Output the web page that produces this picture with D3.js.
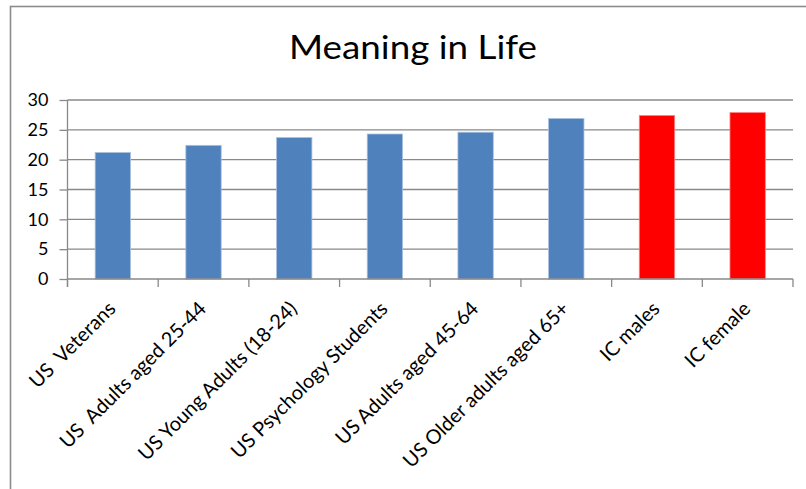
<!DOCTYPE html>
<html>
<head>
<meta charset="utf-8">
<script src="https://cdn.jsdelivr.net/npm/d3@7"></script>
<style>
  html, body { margin: 0; padding: 0; background: #fff; }
  svg { display: block; }
  text { font-family: Lato, "Open Sans", sans-serif; fill: #000; }
</style>
</head>
<body>
<svg id="chart" width="806" height="489"></svg>
<script>
const categories = ["US  Veterans", "US  Adults aged 25-44", "US Young Adults (18-24)", "US Psychology Students",
  "US Adults aged 45-64", "US Older adults aged 65+", "IC males", "IC female"];
const values = [21.2, 22.4, 23.7, 24.3, 24.6, 26.9, 27.4, 27.9];
const barColors = ["#4F81BD", "#4F81BD", "#4F81BD", "#4F81BD", "#4F81BD", "#4F81BD", "#FF0000", "#FF0000"];
const yTicks = [0, 5, 10, 15, 20, 25, 30];
const title = "Meaning in Life";

const svg = d3.select("#chart");
const W = 806, H = 489;
const pLeft = 67.5, pRight = 793, pTop = 100, pBottom = 279;

// outer frame
svg.append("rect").attr("x", 10.5).attr("y", 6.5).attr("width", W).attr("height", H)
  .attr("fill", "none").attr("stroke", "#8c8c8c").attr("stroke-width", 1.6);

const x = d3.scaleBand().domain(categories).range([pLeft, pRight]).paddingInner(0.61).paddingOuter(0.305);
const y = d3.scaleLinear().domain([0, 30]).range([pBottom, pTop]);

// gridlines
svg.append("g").selectAll("line").data(yTicks.filter(d => d > 0)).join("line")
  .attr("x1", pLeft).attr("x2", pRight)
  .attr("y1", d => y(d)).attr("y2", d => y(d))
  .attr("stroke", "#898989").attr("stroke-width", 1.3);

// bars
svg.append("g").selectAll("rect").data(values).join("rect")
  .attr("x", (d, i) => x(categories[i]))
  .attr("width", x.bandwidth())
  .attr("y", d => y(d))
  .attr("height", d => y(0) - y(d))
  .attr("fill", (d, i) => barColors[i])
  .attr("stroke", (d, i) => barColors[i] === "#FF0000" ? "#ff8080" : "#a9c1df")
  .attr("stroke-width", 0.8);

// y axis
const yAxis = d3.axisLeft(y).tickValues(yTicks).tickSize(8).tickPadding(11);
const gy = svg.append("g").attr("transform", `translate(${pLeft},0)`).call(yAxis);
gy.select(".domain").attr("stroke", "#898989").attr("stroke-width", 1.3)
  .attr("d", `M0,${pTop}V${pBottom + 8}`);
gy.selectAll(".tick line").attr("stroke", "#898989").attr("stroke-width", 1.3);
gy.selectAll(".tick text").style("font-family", "Lato, sans-serif").style("font-size", "18px").attr("fill", "#000");

// x axis
const boundaries = d3.range(categories.length + 1).map(i => pLeft + i * (pRight - pLeft) / categories.length);
const gx = svg.append("g");
gx.append("line").attr("x1", pLeft).attr("x2", pRight).attr("y1", pBottom).attr("y2", pBottom)
  .attr("stroke", "#898989").attr("stroke-width", 1.3);
gx.selectAll("line.tk").data(boundaries).join("line").attr("class", "tk")
  .attr("x1", d => d).attr("x2", d => d).attr("y1", pBottom).attr("y2", pBottom + 8)
  .attr("stroke", "#898989").attr("stroke-width", 1.3);
gx.selectAll("text").data(categories).join("text")
  .attr("text-anchor", "end")
  .attr("transform", d => `translate(${x(d) + x.bandwidth() / 2 + 4},${pBottom + 31}) rotate(-45)`)
  .style("font-size", "20px")
  .style("white-space", "pre")
  .text(d => d);

// title
svg.append("text").attr("x", 413).attr("y", 59).attr("text-anchor", "middle")
  .attr("textLength", 248).attr("lengthAdjust", "spacingAndGlyphs")
  .style("font-size", "32px").text(title);
</script>
</body>
</html>
